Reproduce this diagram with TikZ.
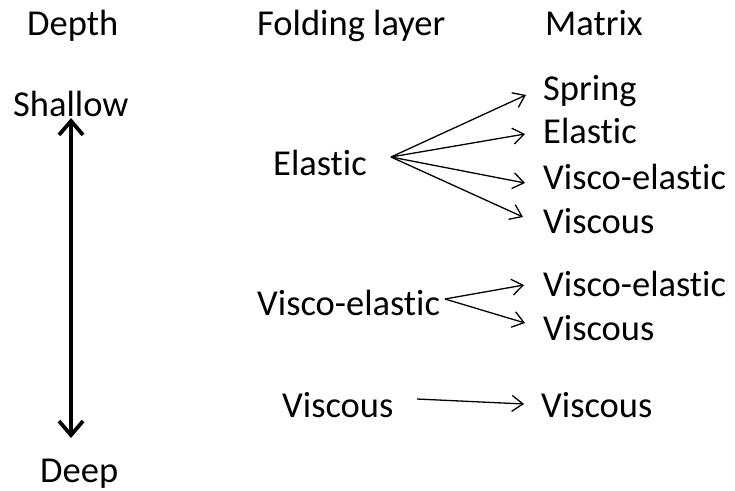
\documentclass[tikz,border=0pt]{standalone}
\usepackage{fontspec}
\setmainfont{Carlito}[Ligatures=NoCommon]
\usetikzlibrary{arrows.meta}
\begin{document}
\begin{tikzpicture}[x=1pt,y=-1pt,
  lbl/.style={anchor=base west,inner sep=0pt,font=\fontsize{36.5}{40}\selectfont},
  fan/.style={line width=1.3pt,-{Straight Barb[length=11pt,width=16pt,line width=1.3pt]}},
  depthaxis/.style={line width=3.8pt,{Straight Barb[length=14pt,width=24pt,line width=3.8pt]}-{Straight Barb[length=14pt,width=24pt,line width=3.8pt]}}]
\useasboundingbox (0,0) rectangle (735,490);
% column headings
\node[lbl] (hdepth) at (27,35) {Depth};
\node[lbl] (hfold) at (257,35) {Folding layer};
\node[lbl] (hmat) at (545,35) {Matrix};
% depth axis
\node[lbl] (shallow) at (13,116) {Shallow};
\node[lbl] (deep) at (40,482) {Deep};
\coordinate (atop) at (71,118);
\coordinate (abot) at (71,438);
\draw[depthaxis] (atop) -- (abot);
% folding layers
\node[lbl] (lel) at (273,175) {Elastic};
\node[lbl] (lve) at (257,315) {Visco-elastic};
\node[lbl] (lvi) at (282,417) {Viscous};
% matrices
\node[lbl] (mspr) at (543,100) {Spring};
\node[lbl] (mel) at (543,143) {Elastic};
\node[lbl] (mve1) at (543,189) {Visco-elastic};
\node[lbl] (mvi1) at (543,233) {Viscous};
\node[lbl] (mve2) at (543,296) {Visco-elastic};
\node[lbl] (mvi2) at (543,340) {Viscous};
\node[lbl] (mvi3) at (541,417) {Viscous};
% fan origins and arrow ends
\coordinate (oel) at (391,157);
\coordinate (ove) at (445,299);
\coordinate (ovi) at (417,399);
\coordinate (tspr) at (526,95);
\coordinate (tel) at (525,134);
\coordinate (tve1) at (525,183);
\coordinate (tvi1) at (523,217);
\coordinate (tve2) at (524,285);
\coordinate (tvi2) at (525,323);
\coordinate (tvi3) at (524,404);
\draw[fan] (oel) -- (tspr);
\draw[fan] (oel) -- (tel);
\draw[fan] (oel) -- (tve1);
\draw[fan] (oel) -- (tvi1);
\draw[fan] (ove) -- (tve2);
\draw[fan] (ove) -- (tvi2);
\draw[fan] (ovi) -- (tvi3);
\end{tikzpicture}
\end{document}
